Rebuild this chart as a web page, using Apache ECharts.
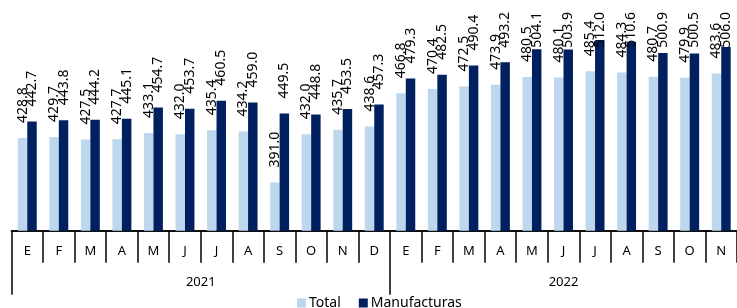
<!DOCTYPE html>
<html>
<head>
<meta charset="utf-8">
<style>
	html, body { margin: 0; padding: 0; background: #ffffff; }
	.chart { width: 737px; height: 308px; }
</style>
<script src="https://cdn.jsdelivr.net/npm/echarts@6/dist/echarts.min.js"></script>
</head>
<body>
<div class="chart"></div>
<script>
// 数据
let months = ['E', 'F', 'M', 'A', 'M', 'J', 'J', 'A', 'S', 'O', 'N', 'D',
	'E', 'F', 'M', 'A', 'M', 'J', 'J', 'A', 'S', 'O', 'N'];
let years = ['2021', '2022'];
let monthsPerYear = [12, 11];
let totalData = [428.8, 429.7, 427.5, 427.7, 433.1, 432.0, 435.4, 434.2, 391.0, 432.0, 435.7, 438.6,
	466.8, 470.4, 472.5, 473.9, 480.5, 480.1, 485.4, 484.3, 480.7, 479.9, 483.6];
let manufData = [442.7, 443.8, 444.2, 445.1, 454.7, 453.7, 460.5, 459.0, 449.5, 448.8, 453.5, 457.3,
	479.3, 482.5, 490.4, 493.2, 504.1, 503.9, 512.0, 510.6, 500.9, 500.5, 506.0];

(function() {
	let myChart = echarts.init(document.querySelector('.chart'));

	// 年份分隔线与年份标签的位置（按月份数累加）
	let yearTicks = [];
	let yearCenters = [];
	let start = 0;
	monthsPerYear.forEach(function(n) {
		yearTicks.push(start);
		yearCenters.push(start + n / 2);
		start += n;
	});

	let labelFont = '14px "Noto Sans"';
	let labelDist = 15;
	let labelTop = 12;

	let labelStyle = {
		show: true,
		position: 'top',
		rotate: 90,
		align: 'left',
		verticalAlign: 'middle',
		distance: labelDist,
		color: '#000000',
		fontSize: 14,
		fontFamily: 'Noto Sans',
		formatter: function(p) {
			return p.value.toFixed(1);
		}
	};

	let option = {
		animation: false,
		textStyle: { fontFamily: 'Noto Sans' },
		legend: {
			left: 297,
			top: 296,
			padding: 0,
			icon: 'rect',
			itemWidth: 9,
			itemHeight: 9,
			itemGap: 18,
			textStyle: { color: '#000000', fontSize: 14, padding: [0, 0, 0, -2] },
			data: ['Total', 'Manufacturas']
		},
		grid: {
			left: 11.5,
			right: -6.6,
			top: 0,
			bottom: 77.3
		},
		xAxis: [
			{
				type: 'category',
				data: months,
				axisLine: { show: true, lineStyle: { color: '#000000', width: 1.5 } },
				axisTick: { show: true, length: 32, lineStyle: { color: '#000000', width: 1.5 } },
				axisLabel: { color: '#000000', fontSize: 13, margin: 14 }
			},
			{
				type: 'value',
				position: 'bottom',
				min: 0,
				max: months.length,
				axisLine: { show: true, lineStyle: { color: '#000000', width: 1.5 } },
				splitLine: { show: false },
				axisTick: {
					show: true,
					customValues: yearTicks,
					length: 64,
					lineStyle: { color: '#000000', width: 1.5 }
				},
				axisLabel: {
					customValues: yearCenters,
					color: '#000000',
					fontSize: 13,
					margin: 45,
					formatter: function(v) {
						return years[yearCenters.indexOf(v)];
					}
				}
			}
		],
		yAxis: {
			type: 'value',
			min: 350,
			max: 546,
			show: false
		},
		series: [
			{
				name: 'Total',
				type: 'bar',
				barWidth: '30%',
				barGap: '0%',
				itemStyle: { color: '#BDD7EE' },
				label: labelStyle,
				data: totalData
			},
			{
				name: 'Manufacturas',
				type: 'bar',
				barWidth: '30%',
				barGap: '0%',
				itemStyle: { color: '#002060' },
				label: labelStyle,
				data: manufData
			}
		]
	};

	myChart.setOption(option);

	// 标签太高时缩短与柱顶的距离，使其留在图内
	let ctx = document.createElement('canvas').getContext('2d');
	ctx.font = labelFont;
	function fitLabels(arr) {
		return arr.map(function(v) {
			let y = myChart.convertToPixel({ yAxisIndex: 0 }, v);
			let w = ctx.measureText(v.toFixed(1)).width;
			let d = Math.min(labelDist, y - labelTop - w);
			return { value: v, label: { distance: d } };
		});
	}
	myChart.setOption({
		series: [
			{ data: fitLabels(totalData) },
			{ data: fitLabels(manufData) }
		]
	});

	window.addEventListener('resize', function() {
		myChart.resize();
	})
})();
</script>
</body>
</html>
